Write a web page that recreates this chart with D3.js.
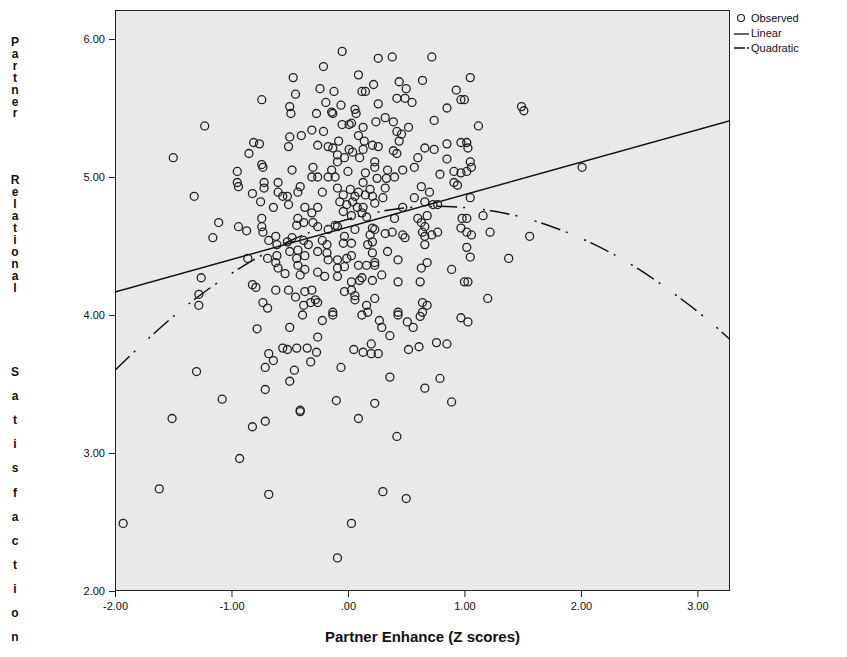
<!DOCTYPE html>
<html>
<head>
<meta charset="utf-8">
<script src="https://cdnjs.cloudflare.com/ajax/libs/d3/7.8.5/d3.min.js"></script>
<style>
  body { margin: 0; background: #fff; }
  text { font-family: "Liberation Sans", Arial, sans-serif; fill: #111; }
</style>
</head>
<body>
<svg id="chart" width="847" height="657"></svg>
<script>
// observed points: [partner enhance z, partner relational satisfaction]
const observed = [
  [-0.74,5.56],[-1.23,5.37],[-0.81,5.25],[-0.76,5.24],[-0.85,5.17],[-1.50,5.14],[-0.74,5.09],
  [-0.05,5.91],[0.26,5.86],[0.38,5.87],[0.72,5.87],[-0.21,5.80],[-0.47,5.72],[0.09,5.74],
  [0.22,5.67],[0.44,5.69],[0.64,5.70],[0.93,5.63],[0.97,5.56],[-0.24,5.64],[-0.12,5.62],
  [0.12,5.62],[0.15,5.62],[0.50,5.64],[-0.45,5.60],[0.42,5.57],[0.49,5.57],[0.55,5.54],
  [-0.19,5.54],[-0.06,5.52],[0.26,5.53],[-0.50,5.51],[-0.49,5.46],[0.85,5.50],[-0.27,5.46],
  [-0.14,5.47],[-0.13,5.46],[0.06,5.49],[0.07,5.46],[0.32,5.43],[0.24,5.40],[0.39,5.40],
  [0.74,5.41],[-0.05,5.38],[0.03,5.39],[0.01,5.38],[0.13,5.36],[0.52,5.36],[0.42,5.33],
  [0.46,5.31],[-0.21,5.33],[-0.31,5.34],[-0.40,5.30],[-0.50,5.29],[0.09,5.30],[-0.08,5.26],
  [0.44,5.26],[0.14,5.26],[-0.26,5.23],[-0.17,5.22],[-0.13,5.21],[0.21,5.23],[0.26,5.22],
  [0.01,5.20],[0.04,5.18],[0.13,5.20],[0.85,5.24],[0.97,5.25],[0.66,5.21],[0.74,5.20],
  [0.39,5.19],[0.42,5.17],[-0.51,5.22],[-0.09,5.16],[-0.03,5.14],[0.10,5.14],[0.60,5.14],
  [0.85,5.13],[0.23,5.11],[-0.09,5.11],
  [1.05,5.72],[1.00,5.56],[1.49,5.51],[1.51,5.48],[1.12,5.37],[1.02,5.25],[1.03,5.21],[1.05,5.11],
  [-0.95,5.04],[-0.95,4.96],[-0.94,4.93],[-0.73,5.07],[-0.72,4.96],[-0.72,4.92],[-0.82,4.88],
  [-0.75,4.82],[-0.64,4.78],[-0.60,4.96],[-0.60,4.89],[-0.56,4.86],[-1.32,4.86],[-1.11,4.67],
  [-1.16,4.56],[-0.94,4.64],[-0.87,4.61],[-0.74,4.70],[-0.74,4.64],[-0.73,4.60],[-0.68,4.54],
  [-0.62,4.57],[-0.61,4.51],[-0.86,4.41],[-0.69,4.41],[-0.61,4.43],[-0.62,4.38],[-0.60,4.34],
  [-1.26,4.27],[-1.28,4.15],[-1.28,4.07],[-0.82,4.22],[-0.79,4.20],[-0.62,4.18],[-0.73,4.09],
  [-0.69,4.05],
  [-0.48,5.05],[-0.30,5.07],[-0.31,5.00],[-0.26,5.00],[-0.14,5.05],[-0.11,5.00],[-0.17,5.00],
  [0.00,5.04],[0.15,5.03],[0.13,4.96],[0.23,5.07],[0.25,4.99],[0.34,5.05],[0.33,4.99],
  [0.40,5.00],[0.47,5.05],[0.57,5.07],[0.79,5.02],[0.91,5.04],[0.91,4.96],[0.94,4.94],
  [0.97,5.03],[-0.52,4.86],[-0.51,4.80],[-0.41,4.93],[-0.43,4.89],[-0.22,4.89],[-0.09,4.92],
  [-0.04,4.87],[0.02,4.91],[0.06,4.86],[0.09,4.89],[0.15,4.87],[0.19,4.91],[0.21,4.86],
  [0.32,4.92],[0.30,4.85],[0.63,4.93],[0.70,4.89],[0.57,4.85],[-0.37,4.78],[-0.31,4.74],
  [-0.26,4.78],[-0.07,4.82],[-0.01,4.80],[0.04,4.82],[0.08,4.78],[0.13,4.78],[0.23,4.81],
  [0.47,4.78],[0.66,4.82],[0.73,4.80],[0.77,4.80],[-0.04,4.75],[0.03,4.72],[0.12,4.74],
  [0.16,4.71],[0.40,4.70],[-0.43,4.70],[-0.44,4.65],[-0.38,4.67],[-0.30,4.67],[-0.26,4.64],
  [-0.11,4.65],[-0.09,4.64],[-0.17,4.62],[0.21,4.63],[0.23,4.62],[0.06,4.62],[0.60,4.70],
  [0.63,4.67],[0.66,4.64],[0.64,4.60],[0.68,4.72],[0.98,4.70],[0.97,4.63],[-0.48,4.56],
  [-0.52,4.53],[-0.38,4.54],[-0.34,4.51],[-0.22,4.54],[-0.18,4.51],[-0.03,4.57],[-0.04,4.52],
  [0.03,4.52],[0.19,4.58],[0.21,4.53],[0.17,4.51],[0.32,4.59],[0.38,4.60],[0.47,4.58],
  [0.49,4.56],[0.66,4.57],[0.72,4.58],[0.77,4.60],[0.66,4.51],[-0.50,4.46],[-0.43,4.47],
  [-0.44,4.41],[-0.37,4.43],[-0.26,4.46],[-0.18,4.45],[-0.17,4.40],[-0.09,4.40],[-0.01,4.41],
  [0.03,4.43],[0.21,4.45],[0.23,4.38],[0.34,4.46],[0.43,4.40],[0.68,4.38],[0.63,4.34],
  [0.89,4.33],[-0.43,4.36],[-0.37,4.33],[-0.41,4.29],[-0.26,4.31],[-0.20,4.28],[-0.09,4.34],
  [-0.09,4.28],[-0.03,4.35],[0.09,4.36],[0.16,4.36],[0.23,4.36],[0.12,4.27],[0.21,4.25],
  [0.29,4.29],[0.43,4.24],[0.62,4.24],[1.00,4.24],[-0.51,4.18],[-0.45,4.13],[-0.37,4.17],
  [-0.31,4.18],[-0.28,4.11],[-0.32,4.09],[-0.26,4.09],[-0.38,4.07],[-0.13,4.02],[-0.03,4.17],
  [0.03,4.18],[0.06,4.14],[0.06,4.11],[0.03,4.24],[0.10,4.25],[0.16,4.07],[0.17,4.02],
  [0.23,4.12],[0.43,4.02],[0.64,4.09],[0.68,4.07],[0.64,4.02],[-0.54,4.30],
  [2.01,5.07],[1.05,4.85],[1.02,4.70],[1.16,4.72],[1.02,4.60],[1.06,4.58],[1.22,4.60],
  [1.02,4.49],[1.05,4.42],[1.56,4.57],[1.38,4.41],[1.03,4.24],[1.20,4.12],[1.06,5.07],[1.02,5.04],
  [-0.78,3.90],[-0.68,3.72],[-0.64,3.67],[-0.71,3.62],[-0.56,3.76],[-1.30,3.59],[-0.71,3.46],
  [-1.08,3.39],[-1.51,3.25],[-0.71,3.23],[-0.82,3.19],[-0.93,2.96],
  [-0.39,4.00],[-0.13,4.00],[0.12,4.00],[0.27,3.96],[0.29,3.91],[0.43,4.00],[0.51,3.95],
  [0.56,3.91],[0.62,3.99],[0.97,3.98],[-0.22,3.96],[-0.50,3.91],[-0.26,3.84],[0.36,3.85],
  [-0.52,3.75],[-0.44,3.76],[-0.35,3.76],[-0.27,3.73],[-0.32,3.66],[0.05,3.75],[0.13,3.73],
  [0.20,3.79],[0.20,3.72],[0.26,3.72],[0.52,3.75],[0.61,3.77],[0.76,3.80],[0.85,3.79],
  [-0.46,3.60],[-0.50,3.52],[-0.06,3.62],[0.36,3.55],[0.66,3.47],[0.79,3.54],[-0.10,3.38],
  [0.23,3.36],[0.89,3.37],[-0.41,3.31],[-0.41,3.30],[0.09,3.25],[0.42,3.12],
  [1.03,3.95],
  [-1.62,2.74],[-1.93,2.49],[-0.68,2.70],
  [0.30,2.72],[0.50,2.67],[0.03,2.49],[-0.09,2.24]
];

// fit lines
const linearX = [-2, 3.28];
const linearY = [4.167, 5.408];
const quadX = [-2, -1.5, -1, -0.5, 0, 0.5, 1, 1.5, 2, 2.5, 3, 3.28];
const quadY = [3.60, 3.989, 4.301, 4.536, 4.694, 4.776, 4.779, 4.707, 4.556, 4.330, 4.026, 3.822];

const xTicks = [-2, -1, 0, 1, 2, 3];
const yTicks = [2, 3, 4, 5, 6];
const legendLabels = ["Observed", "Linear", "Quadratic"];
const xTitle = "Partner Enhance (Z scores)";
const yTitle = ["Partner", "Relational", "Satisfaction"];

const svg = d3.select("#chart");
const plotL = 115, plotR = 730, plotT = 10, plotB = 591;

const x = d3.scaleLinear().domain([-2, 3.28]).range([plotL, plotR]);
const y = d3.scaleLinear().domain([2, 6.21]).range([plotB, plotT]);

// SPSS style: ".00", "-1.00" with a plain hyphen
const fmt = v => {
  if (v === 0) return ".00";
  return (v < 0 ? "-" : "") + Math.abs(v).toFixed(2);
};

svg.append("rect").attr("width", 847).attr("height", 657).attr("fill", "#fff");

svg.append("defs").append("clipPath").attr("id", "plotclip")
  .append("rect").attr("x", plotL).attr("y", plotT)
  .attr("width", plotR - plotL).attr("height", plotB - plotT);

svg.append("rect")
  .attr("x", plotL).attr("y", plotT)
  .attr("width", plotR - plotL).attr("height", plotB - plotT)
  .attr("fill", "#e9e9e9");

// axes
const xAxis = svg.append("g")
  .attr("transform", `translate(0,${plotB})`)
  .call(d3.axisBottom(x).tickValues(xTicks).tickFormat(fmt).tickSize(6).tickSizeOuter(0));
const yAxis = svg.append("g")
  .attr("transform", `translate(${plotL},0)`)
  .call(d3.axisLeft(y).tickValues(yTicks).tickFormat(fmt).tickSize(6).tickSizeOuter(0));

[xAxis, yAxis].forEach(g => {
  g.select(".domain").remove();
  g.selectAll("line").attr("stroke", "#222").attr("stroke-width", 1);
  g.selectAll("text").attr("font-size", 11).attr("fill", "#222")
    .style("font-family", '"Liberation Sans", Arial, sans-serif');
});
xAxis.selectAll("text").attr("dy", "0.9em");
yAxis.selectAll("text").attr("dx", "-1");

// plot frame
svg.append("rect")
  .attr("x", plotL + 0.5).attr("y", plotT + 0.5)
  .attr("width", plotR - plotL - 1).attr("height", plotB - plotT - 1)
  .attr("fill", "none").attr("stroke", "#222").attr("stroke-width", 1);

const plot = svg.append("g").attr("clip-path", "url(#plotclip)");

const linePts = linearX.map((v, i) => [v, linearY[i]]);
const quadPts = quadX.map((v, i) => [v, quadY[i]]);

plot.append("path")
  .datum(quadPts)
  .attr("d", d3.line().curve(d3.curveNatural).x(d => x(d[0])).y(d => y(d[1])))
  .attr("fill", "none").attr("stroke", "#111").attr("stroke-width", 1.5)
  .attr("stroke-dasharray", "20,6,2,18,2,5");

plot.selectAll("circle.obs")
  .data(observed)
  .join("circle")
  .attr("class", "obs")
  .attr("cx", d => x(d[0]))
  .attr("cy", d => y(d[1]))
  .attr("r", 4)
  .attr("fill", "none")
  .attr("stroke", "#222")
  .attr("stroke-width", 1.3);

plot.append("path")
  .datum(linePts)
  .attr("d", d3.line().x(d => x(d[0])).y(d => y(d[1])))
  .attr("fill", "none").attr("stroke", "#111").attr("stroke-width", 1.5);

// x title
svg.append("text")
  .attr("x", (plotL + plotR) / 2).attr("y", 642)
  .attr("text-anchor", "middle")
  .attr("font-size", 15).attr("font-weight", "bold")
  .text(xTitle);

// y title, stacked letters (each word has its own start and step)
const yt = svg.append("text")
  .attr("font-size", 12).attr("font-weight", "bold")
  .attr("text-anchor", "middle");
const wordStart = [42, 180, 372];
const wordStep = [11.9, 12, 24.1];
yTitle.forEach((word, wi) => {
  word.split("").forEach((ch, ci) => {
    yt.append("tspan")
      .attr("x", 15)
      .attr("y", wordStart[wi] + ci * wordStep[wi] + 4)
      .text(ch);
  });
});

// legend
const lg = svg.append("g").attr("font-size", 11);
lg.append("circle").attr("cx", 741).attr("cy", 18).attr("r", 3.5)
  .attr("fill", "none").attr("stroke", "#222").attr("stroke-width", 1.2);
lg.append("line").attr("x1", 734).attr("x2", 749).attr("y1", 34).attr("y2", 34)
  .attr("stroke", "#111").attr("stroke-width", 1.3);
lg.append("line").attr("x1", 734).attr("x2", 749).attr("y1", 48).attr("y2", 48)
  .attr("stroke", "#111").attr("stroke-width", 1.3).attr("stroke-dasharray", "11,2,2,2");
lg.selectAll("text.lab")
  .data(legendLabels)
  .join("text")
  .attr("class", "lab")
  .attr("x", 751)
  .attr("y", (d, i) => 22 + i * 15)
  .text(d => d);
</script>
</body>
</html>
